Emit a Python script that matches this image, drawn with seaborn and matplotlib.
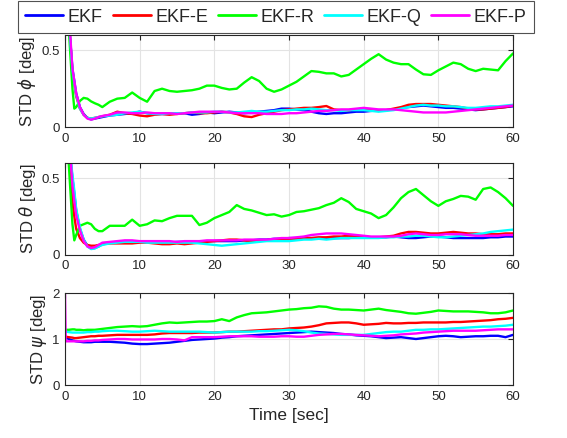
import numpy as np
import pandas as pd
import seaborn as sns
import matplotlib
matplotlib.use("Agg")
import matplotlib.pyplot as plt

# Time stamps [sec] shared by all filter runs
time_s = [0, 0.1, 0.5, 1, 1.25, 1.5, 2, 2.5, 3, 3.5, 4, 4.5] + list(range(5, 61))

filters = ["EKF", "EKF-E", "EKF-R", "EKF-Q", "EKF-P"]
colors = ["#0000ff", "#ff0000", "#00ff00", "#00ffff", "#ff00ff"]

# --- roll STD [deg] ---
phi_ekf = [2.0, 1.5, 0.7, 0.38, 0.3, 0.22, 0.13, 0.085, 0.06, 0.05, 0.055, 0.06,
           0.065, 0.075, 0.08, 0.085, 0.09, 0.1, 0.09, 0.085, 0.085, 0.085, 0.09, 0.09, 0.08, 0.085,
           0.095, 0.09, 0.095, 0.1, 0.095, 0.09, 0.095, 0.1, 0.105, 0.11, 0.12, 0.12, 0.115, 0.11,
           0.1, 0.09, 0.085, 0.09, 0.09, 0.095, 0.1, 0.1, 0.105, 0.11, 0.11, 0.115, 0.125, 0.13,
           0.135, 0.14, 0.135, 0.13, 0.125, 0.125, 0.12, 0.115, 0.11, 0.115, 0.12, 0.125, 0.13, 0.135]
phi_ekf_e = [2.0, 1.5, 0.7, 0.36, 0.28, 0.2, 0.12, 0.08, 0.06, 0.055, 0.06, 0.065,
             0.07, 0.08, 0.1, 0.09, 0.085, 0.075, 0.07, 0.08, 0.085, 0.08, 0.085, 0.09, 0.095, 0.09,
             0.09, 0.095, 0.1, 0.095, 0.085, 0.07, 0.065, 0.08, 0.09, 0.1, 0.11, 0.115, 0.12, 0.125,
             0.125, 0.13, 0.137, 0.115, 0.11, 0.11, 0.115, 0.12, 0.11, 0.105, 0.11, 0.12, 0.13, 0.145,
             0.15, 0.15, 0.15, 0.145, 0.14, 0.135, 0.13, 0.12, 0.115, 0.115, 0.12, 0.125, 0.13, 0.14]
phi_ekf_r = [2.0, 1.5, 0.65, 0.25, 0.12, 0.13, 0.17, 0.19, 0.185, 0.167, 0.155, 0.145,
             0.13, 0.165, 0.185, 0.19, 0.225, 0.19, 0.165, 0.235, 0.25, 0.235, 0.23, 0.235, 0.24, 0.25,
             0.27, 0.27, 0.255, 0.245, 0.25, 0.29, 0.325, 0.3, 0.25, 0.23, 0.245, 0.27, 0.295, 0.33,
             0.365, 0.36, 0.35, 0.35, 0.33, 0.34, 0.375, 0.41, 0.445, 0.475, 0.44, 0.42, 0.41, 0.41,
             0.375, 0.344, 0.34, 0.37, 0.395, 0.42, 0.41, 0.38, 0.365, 0.38, 0.375, 0.37, 0.43, 0.48]
phi_ekf_q = [2.0, 1.5, 0.7, 0.37, 0.29, 0.21, 0.12, 0.08, 0.06, 0.055, 0.06, 0.065,
             0.07, 0.075, 0.08, 0.09, 0.095, 0.1, 0.09, 0.085, 0.085, 0.09, 0.09, 0.09, 0.095, 0.095,
             0.095, 0.1, 0.1, 0.095, 0.095, 0.1, 0.105, 0.1, 0.1, 0.105, 0.11, 0.11, 0.115, 0.115,
             0.12, 0.115, 0.11, 0.11, 0.105, 0.11, 0.11, 0.11, 0.105, 0.1, 0.105, 0.11, 0.12, 0.13,
             0.14, 0.145, 0.14, 0.14, 0.135, 0.135, 0.13, 0.125, 0.125, 0.13, 0.135, 0.135, 0.14, 0.145]
phi_ekf_p = [2.0, 1.5, 0.75, 0.38, 0.3, 0.22, 0.13, 0.08, 0.055, 0.048, 0.055, 0.065,
             0.072, 0.08, 0.095, 0.095, 0.09, 0.09, 0.095, 0.09, 0.09, 0.09, 0.085, 0.09, 0.095, 0.1,
             0.1, 0.1, 0.1, 0.095, 0.09, 0.09, 0.09, 0.09, 0.085, 0.085, 0.085, 0.09, 0.09, 0.095,
             0.1, 0.105, 0.105, 0.11, 0.115, 0.115, 0.12, 0.125, 0.12, 0.115, 0.115, 0.115, 0.11, 0.105,
             0.1, 0.095, 0.095, 0.095, 0.095, 0.1, 0.105, 0.11, 0.115, 0.12, 0.125, 0.13, 0.135, 0.14]

# --- pitch STD [deg] ---
theta_ekf = [2.0, 1.5, 0.75, 0.5, 0.4, 0.29, 0.17, 0.1, 0.06, 0.042, 0.045, 0.055,
             0.07, 0.08, 0.085, 0.09, 0.09, 0.085, 0.085, 0.085, 0.08, 0.08, 0.085, 0.085, 0.08, 0.085,
             0.09, 0.09, 0.09, 0.09, 0.09, 0.095, 0.095, 0.1, 0.1, 0.105, 0.105, 0.11, 0.11, 0.11,
             0.11, 0.11, 0.11, 0.11, 0.11, 0.11, 0.115, 0.115, 0.115, 0.115, 0.115, 0.12, 0.115, 0.11,
             0.11, 0.115, 0.12, 0.12, 0.115, 0.11, 0.11, 0.11, 0.11, 0.11, 0.115, 0.115, 0.12, 0.12]
theta_ekf_e = [2.0, 1.5, 0.7, 0.35, 0.25, 0.17, 0.11, 0.08, 0.065, 0.06, 0.06, 0.065,
               0.07, 0.075, 0.075, 0.075, 0.075, 0.08, 0.08, 0.075, 0.07, 0.07, 0.075, 0.07, 0.075, 0.08,
               0.085, 0.09, 0.095, 0.1, 0.1, 0.095, 0.09, 0.09, 0.095, 0.1, 0.105, 0.105, 0.105, 0.11,
               0.11, 0.115, 0.115, 0.12, 0.12, 0.125, 0.12, 0.115, 0.115, 0.115, 0.12, 0.125, 0.14, 0.15,
               0.15, 0.145, 0.14, 0.14, 0.145, 0.15, 0.145, 0.14, 0.14, 0.135, 0.135, 0.135, 0.14, 0.14]
theta_ekf_r = [2.0, 1.5, 0.6, 0.2, 0.095, 0.13, 0.19, 0.2, 0.21, 0.2, 0.17, 0.155,
               0.155, 0.19, 0.19, 0.19, 0.23, 0.19, 0.2, 0.225, 0.22, 0.24, 0.255, 0.255, 0.255, 0.195,
               0.21, 0.24, 0.26, 0.28, 0.325, 0.3, 0.29, 0.275, 0.26, 0.265, 0.25, 0.26, 0.28, 0.285,
               0.295, 0.305, 0.325, 0.34, 0.37, 0.345, 0.3, 0.285, 0.27, 0.24, 0.26, 0.31, 0.37, 0.41,
               0.43, 0.39, 0.35, 0.32, 0.35, 0.365, 0.385, 0.38, 0.36, 0.43, 0.44, 0.41, 0.37, 0.32]
theta_ekf_q = [2.0, 1.5, 0.75, 0.52, 0.42, 0.3, 0.18, 0.1, 0.055, 0.038, 0.042, 0.055,
               0.065, 0.075, 0.08, 0.085, 0.085, 0.085, 0.08, 0.08, 0.08, 0.08, 0.08, 0.08, 0.08, 0.075,
               0.07, 0.065, 0.06, 0.065, 0.07, 0.075, 0.08, 0.085, 0.09, 0.09, 0.09, 0.09, 0.095, 0.1,
               0.1, 0.105, 0.1, 0.105, 0.11, 0.11, 0.11, 0.11, 0.11, 0.11, 0.115, 0.115, 0.12, 0.12,
               0.125, 0.125, 0.12, 0.115, 0.115, 0.12, 0.125, 0.13, 0.135, 0.14, 0.15, 0.155, 0.16, 0.165]
theta_ekf_p = [2.0, 1.5, 0.8, 0.45, 0.35, 0.26, 0.16, 0.09, 0.055, 0.045, 0.05, 0.065,
               0.08, 0.085, 0.09, 0.095, 0.095, 0.09, 0.09, 0.09, 0.09, 0.09, 0.085, 0.09, 0.09, 0.09,
               0.095, 0.095, 0.095, 0.095, 0.095, 0.1, 0.1, 0.1, 0.1, 0.105, 0.11, 0.11, 0.115, 0.12,
               0.13, 0.135, 0.14, 0.14, 0.14, 0.135, 0.13, 0.125, 0.12, 0.12, 0.12, 0.12, 0.125, 0.135,
               0.14, 0.135, 0.13, 0.13, 0.135, 0.135, 0.135, 0.13, 0.125, 0.125, 0.125, 0.125, 0.13, 0.13]

# --- yaw STD [deg] ---
psi_ekf = [1.05, 1.04, 1.0, 0.97, 0.96, 0.95, 0.94, 0.93, 0.93, 0.93, 0.94, 0.94,
           0.94, 0.94, 0.93, 0.92, 0.9, 0.89, 0.89, 0.9, 0.91, 0.92, 0.94, 0.96, 0.98, 0.99,
           1.0, 1.01, 1.03, 1.04, 1.06, 1.07, 1.08, 1.09, 1.1, 1.11, 1.12, 1.13, 1.14, 1.15,
           1.16, 1.15, 1.14, 1.13, 1.11, 1.1, 1.08, 1.07, 1.06, 1.04, 1.02, 1.03, 1.04, 1.02,
           1.0, 1.02, 1.04, 1.06, 1.07, 1.06, 1.04, 1.05, 1.06, 1.06, 1.07, 1.07, 1.04, 1.09]
psi_ekf_e = [1.05, 1.05, 1.04, 1.03, 1.02, 1.02, 1.03, 1.04, 1.05, 1.06, 1.06, 1.07,
             1.07, 1.08, 1.09, 1.09, 1.09, 1.09, 1.09, 1.1, 1.12, 1.13, 1.13, 1.13, 1.13, 1.14,
             1.14, 1.14, 1.15, 1.16, 1.16, 1.17, 1.18, 1.19, 1.2, 1.21, 1.21, 1.23, 1.24, 1.25,
             1.27, 1.3, 1.34, 1.35, 1.36, 1.36, 1.34, 1.31, 1.32, 1.33, 1.35, 1.34, 1.34, 1.35,
             1.35, 1.36, 1.36, 1.36, 1.36, 1.37, 1.37, 1.38, 1.39, 1.4, 1.41, 1.43, 1.44, 1.46]
psi_ekf_r = [1.2, 1.2, 1.2, 1.21, 1.21, 1.2, 1.2, 1.19, 1.2, 1.2, 1.2, 1.21,
             1.22, 1.24, 1.26, 1.27, 1.28, 1.27, 1.28, 1.31, 1.34, 1.36, 1.35, 1.36, 1.37, 1.38,
             1.38, 1.39, 1.43, 1.39, 1.47, 1.52, 1.56, 1.57, 1.58, 1.6, 1.62, 1.64, 1.65, 1.67,
             1.68, 1.71, 1.7, 1.66, 1.64, 1.64, 1.63, 1.62, 1.64, 1.66, 1.63, 1.61, 1.59, 1.56,
             1.55, 1.57, 1.59, 1.62, 1.61, 1.6, 1.6, 1.6, 1.59, 1.58, 1.56, 1.56, 1.58, 1.62]
psi_ekf_q = [1.16, 1.16, 1.15, 1.14, 1.14, 1.14, 1.14, 1.14, 1.15, 1.15, 1.16, 1.16,
             1.17, 1.18, 1.18, 1.17, 1.16, 1.16, 1.17, 1.18, 1.17, 1.16, 1.16, 1.16, 1.16, 1.16,
             1.15, 1.14, 1.15, 1.16, 1.16, 1.16, 1.16, 1.17, 1.17, 1.18, 1.19, 1.2, 1.19, 1.17,
             1.14, 1.12, 1.11, 1.1, 1.09, 1.09, 1.09, 1.09, 1.11, 1.13, 1.15, 1.16, 1.16, 1.18,
             1.2, 1.2, 1.21, 1.21, 1.22, 1.23, 1.24, 1.25, 1.26, 1.27, 1.27, 1.28, 1.29, 1.31]
psi_ekf_p = [2.0, 0.95, 0.95, 0.95, 0.95, 0.95, 0.95, 0.95, 0.96, 0.96, 0.97, 0.97,
             0.98, 0.99, 1.0, 1.0, 0.99, 0.99, 0.99, 0.99, 1.0, 1.0, 0.99, 0.97, 1.04, 1.04,
             1.04, 1.04, 1.05, 1.06, 1.06, 1.06, 1.06, 1.05, 1.05, 1.05, 1.06, 1.06, 1.05, 1.05,
             1.07, 1.09, 1.1, 1.11, 1.11, 1.1, 1.09, 1.08, 1.07, 1.06, 1.07, 1.08, 1.1, 1.11,
             1.12, 1.14, 1.15, 1.16, 1.17, 1.18, 1.18, 1.18, 1.18, 1.19, 1.2, 1.21, 1.21, 1.21]

panels = [
    ("STD $\\phi$ [deg]", [phi_ekf, phi_ekf_e, phi_ekf_r, phi_ekf_q, phi_ekf_p], (0, 0.6), [0, 0.5], ["0", "0.5"]),
    ("STD $\\theta$ [deg]", [theta_ekf, theta_ekf_e, theta_ekf_r, theta_ekf_q, theta_ekf_p], (0, 0.6), [0, 0.5], ["0", "0.5"]),
    ("STD $\\psi$ [deg]", [psi_ekf, psi_ekf_e, psi_ekf_r, psi_ekf_q, psi_ekf_p], (0, 2), [0, 1, 2], ["0", "1", "2"]),
]

sns.set_style("white")
plt.rcParams["font.family"] = ["Liberation Sans", "DejaVu Sans"]
plt.rcParams["mathtext.fontset"] = "dejavusans"

fig = plt.figure(figsize=(5.67, 4.38), dpi=100)
left, width = 0.1146, 0.7902
bottoms = [0.710, 0.418, 0.121]
height = 0.210

palette = dict(zip(filters, colors))
handles = None
for (ylabel, series, ylim, yticks, yticklabels), b in zip(panels, bottoms):
    ax = fig.add_axes([left, b, width, height])
    df = pd.concat(
        [pd.DataFrame({"time": time_s, "std": vals, "filter": name})
         for name, vals in zip(filters, series)],
        ignore_index=True,
    )
    sns.lineplot(data=df, x="time", y="std", hue="filter", hue_order=filters,
                 palette=palette, linewidth=1.7, ax=ax, legend=True, estimator=None,
                 sort=False)
    handles, labels = ax.get_legend_handles_labels()
    ax.get_legend().remove()
    ax.set_xlim(0, 60)
    ax.set_ylim(*ylim)
    ax.set_xticks(range(0, 61, 10))
    ax.set_yticks(yticks)
    ax.set_yticklabels(yticklabels)
    ax.grid(True, color="#e3e3e3", linewidth=0.8)
    ax.set_axisbelow(True)
    for sp in ax.spines.values():
        sp.set_color("#262626")
        sp.set_linewidth(0.8)
        sp.set_visible(True)
    ax.tick_params(direction="in", length=3.5, width=0.8, top=True, right=True,
                   labelsize=9.5, colors="#262626", pad=4)
    ax.set_ylabel(ylabel, fontsize=12, color="#262626", labelpad=2)
    ax.set_xlabel("")

ax.set_xlabel("Time [sec]", fontsize=12.5, color="#262626", labelpad=4)

leg = fig.legend(handles, filters, loc="upper left", bbox_to_anchor=(0.032, 0.997),
                 ncol=5, frameon=True, fancybox=False, fontsize=13,
                 handlelength=2.1, columnspacing=0.55, handletextpad=0.25,
                 borderpad=0.4, borderaxespad=0.0)
leg.get_frame().set_edgecolor("#262626")
leg.get_frame().set_linewidth(0.8)
for line in leg.get_lines():
    line.set_linewidth(2.0)

fig.savefig("out.png", dpi=100)
